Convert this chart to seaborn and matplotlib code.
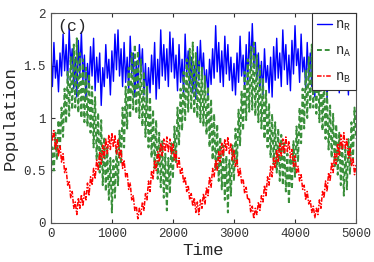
import numpy as np
import pandas as pd
import matplotlib
matplotlib.use("Agg")
import matplotlib.pyplot as plt
import seaborn as sns

# time grid (step 25)
time = np.arange(0, 5001, 25)

n_R = [
    1.65, 1.30, 1.72, 1.38, 1.55, 1.25, 1.62, 1.40, 1.80, 1.45, 1.70, 1.35,
    1.85, 1.50, 1.66, 1.28, 1.58, 1.20, 1.74, 1.42, 1.82, 1.36, 1.60, 1.18,
    1.52, 1.30, 1.68, 1.40, 1.76, 1.26, 1.58, 1.34, 1.62, 1.12, 1.48, 1.30,
    1.70, 1.38, 1.56, 1.22, 1.64, 1.35, 1.80, 1.46, 1.84, 1.40, 1.66, 1.30,
    1.72, 1.34, 1.58, 1.26, 1.78, 1.42, 1.62, 1.20, 1.54, 1.28, 1.70, 1.44,
    1.66, 1.22, 1.52, 1.16, 1.48, 1.24, 1.60, 1.32, 1.72, 1.18, 1.56, 1.28,
    1.84, 1.40, 1.70, 1.36, 1.66, 1.30, 1.82, 1.44, 1.76, 1.38, 1.60, 1.26,
    1.70, 1.34, 1.56, 1.22, 1.80, 1.42, 1.64, 1.30, 1.58, 1.24, 1.50, 1.18,
    1.68, 1.36, 1.74, 1.40, 1.62, 1.28, 1.46, 1.20, 1.56, 1.32, 1.66, 1.38,
    1.88, 1.44, 1.72, 1.34, 1.64, 1.30, 1.78, 1.42, 1.70, 1.36, 1.58, 1.26,
    1.52, 1.22, 1.62, 1.34, 1.78, 1.40, 1.60, 1.28, 1.70, 1.32, 1.82, 1.46,
    1.90, 1.48, 1.72, 1.36, 1.62, 1.28, 1.54, 1.22, 1.66, 1.34, 1.50, 1.24,
    1.58, 1.20, 1.68, 1.36, 1.76, 1.38, 1.62, 1.30, 1.84, 1.46, 1.70, 1.32,
    1.60, 1.26, 1.74, 1.42, 1.88, 1.50, 1.66, 1.34, 1.80, 1.44, 1.58, 1.28,
    1.72, 1.36, 1.62, 1.30, 1.56, 1.20, 1.68, 1.38, 1.52, 1.26, 1.60, 1.32,
    1.66, 1.18, 1.54, 1.30, 1.74, 1.40, 1.62, 1.28, 1.58, 1.24, 1.70, 1.36,
    1.64, 1.30, 1.56, 1.22, 1.72, 1.38, 1.60, 1.32, 1.55,
]

n_A = [
    0.40, 0.72, 0.50, 0.86, 0.60, 0.98, 0.72, 1.10, 0.82, 1.28, 0.95, 1.45,
    1.02, 1.58, 1.08, 1.70, 1.10, 1.76, 1.05, 1.62, 1.00, 1.56, 0.96, 1.48,
    0.92, 1.42, 0.86, 1.30, 0.72, 1.20, 0.60, 1.05, 0.48, 0.98, 0.36, 0.82,
    0.30, 0.72, 0.22, 0.62, 0.10, 0.60, 0.24, 0.72, 0.36, 0.88, 0.56, 1.10,
    0.72, 1.30, 0.90, 1.48, 1.00, 1.62, 1.08, 1.70, 1.04, 1.64, 1.00, 1.56,
    0.92, 1.44, 0.82, 1.30, 0.72, 1.20, 0.62, 1.08, 0.52, 0.98, 0.42, 0.86,
    0.34, 0.78, 0.24, 0.66, 0.12, 0.62, 0.28, 0.76, 0.42, 0.92, 0.58, 1.10,
    0.74, 1.28, 0.88, 1.44, 0.98, 1.56, 1.06, 1.66, 1.08, 1.72, 1.04, 1.62,
    1.00, 1.54, 0.96, 1.48, 0.92, 1.40, 0.84, 1.30, 0.72, 1.18, 0.60, 1.04,
    0.50, 0.94, 0.40, 0.82, 0.32, 0.74, 0.22, 0.64, 0.10, 0.60, 0.26, 0.74,
    0.40, 0.90, 0.56, 1.08, 0.74, 1.26, 0.88, 1.44, 0.98, 1.56, 1.06, 1.68,
    1.08, 1.72, 1.02, 1.60, 0.96, 1.50, 0.90, 1.38, 0.80, 1.26, 0.72, 1.14,
    0.62, 1.04, 0.56, 0.96, 0.48, 0.90, 0.40, 0.84, 0.36, 0.76, 0.30, 0.66,
    0.18, 0.62, 0.32, 0.78, 0.44, 0.92, 0.58, 1.10, 0.76, 1.28, 0.90, 1.46,
    1.00, 1.58, 1.08, 1.70, 1.10, 1.74, 1.04, 1.62, 0.96, 1.50, 0.88, 1.38,
    0.80, 1.24, 0.70, 1.12, 0.62, 1.04, 0.54, 0.94, 0.46, 0.86, 0.36, 0.76,
    0.26, 0.70, 0.32, 0.80, 0.46, 0.96, 0.60, 1.10, 0.80,
]

n_B = [
    0.92, 0.78, 0.88, 0.70, 0.80, 0.64, 0.74, 0.58, 0.66, 0.48, 0.52, 0.36,
    0.40, 0.24, 0.30, 0.14, 0.20, 0.08, 0.24, 0.14, 0.27, 0.16, 0.30, 0.22,
    0.38, 0.26, 0.44, 0.36, 0.52, 0.42, 0.60, 0.50, 0.68, 0.56, 0.74, 0.62,
    0.80, 0.66, 0.84, 0.70, 0.86, 0.72, 0.84, 0.66, 0.80, 0.62, 0.70, 0.52,
    0.60, 0.44, 0.48, 0.32, 0.38, 0.22, 0.26, 0.12, 0.16, 0.04, 0.14, 0.08,
    0.20, 0.12, 0.28, 0.22, 0.40, 0.30, 0.50, 0.42, 0.60, 0.50, 0.68, 0.58,
    0.76, 0.64, 0.80, 0.68, 0.82, 0.68, 0.80, 0.66, 0.76, 0.60, 0.68, 0.52,
    0.62, 0.46, 0.52, 0.38, 0.44, 0.30, 0.36, 0.22, 0.28, 0.16, 0.24, 0.10,
    0.20, 0.08, 0.22, 0.14, 0.28, 0.18, 0.34, 0.26, 0.44, 0.34, 0.52, 0.44,
    0.60, 0.50, 0.68, 0.58, 0.76, 0.64, 0.80, 0.68, 0.82, 0.66, 0.76, 0.60,
    0.70, 0.54, 0.60, 0.44, 0.52, 0.38, 0.42, 0.28, 0.34, 0.22, 0.24, 0.10,
    0.16, 0.04, 0.14, 0.08, 0.20, 0.12, 0.26, 0.20, 0.36, 0.26, 0.44, 0.36,
    0.54, 0.44, 0.62, 0.52, 0.70, 0.58, 0.76, 0.64, 0.80, 0.66, 0.82, 0.68,
    0.78, 0.62, 0.70, 0.54, 0.64, 0.48, 0.54, 0.40, 0.46, 0.32, 0.36, 0.22,
    0.30, 0.18, 0.22, 0.10, 0.16, 0.05, 0.14, 0.08, 0.22, 0.14, 0.30, 0.24,
    0.40, 0.30, 0.48, 0.40, 0.58, 0.48, 0.66, 0.56, 0.76, 0.64, 0.84, 0.70,
    0.86, 0.70, 0.80, 0.62, 0.72, 0.54, 0.62, 0.46, 0.56,
]

labels = [r"n$_\mathrm{R}$", r"n$_\mathrm{A}$", r"n$_\mathrm{B}$"]
colors = ["#0000ff", "#3a8f3a", "#ff0000"]

sns.set_style("ticks")
plt.rcParams["font.family"] = ["Liberation Mono", "DejaVu Sans"]
plt.rcParams["mathtext.fontset"] = "custom"
plt.rcParams["mathtext.rm"] = "Liberation Mono"
plt.rcParams["mathtext.it"] = "Liberation Mono"

fig = plt.figure(figsize=(3.74, 2.62), dpi=100)
ax = fig.add_axes([0.136, 0.149, 0.816, 0.801])

sns.lineplot(x=time, y=n_R, ax=ax, color=colors[0], lw=1.0, label=labels[0])
sns.lineplot(x=time, y=n_A, ax=ax, color=colors[1], lw=1.4, label=labels[1],
             linestyle=(0, (2.5, 1.5)))
sns.lineplot(x=time, y=n_B, ax=ax, color=colors[2], lw=1.1, label=labels[2],
             linestyle=(0, (3, 1, 1, 1)))

ax.set_xlim(0, 5000)
ax.set_ylim(0, 2)
ax.set_xticks([0, 1000, 2000, 3000, 4000, 5000])
ax.set_yticks([0, 0.5, 1, 1.5, 2])
ax.set_yticklabels(["0", "0.5", "1", "1.5", "2"])
ax.tick_params(direction="in", top=True, right=False, labelsize=9,
               length=3, colors="#333333", labelcolor="#333333")
for s in ax.spines.values():
    s.set_color("#555555")
    s.set_linewidth(0.8)

ax.set_xlabel("Time", fontsize=12.5, labelpad=2)
ax.set_ylabel("Population", fontsize=12.5, labelpad=4)
ax.text(0.02, 0.97, "(c)", transform=ax.transAxes, fontsize=12,
        va="top", ha="left")

leg = ax.legend(loc="upper right", borderaxespad=0, fontsize=10,
                handlelength=1.1, handletextpad=0.2, labelspacing=0.75,
                fancybox=False, framealpha=1, borderpad=0.35)
leg.get_frame().set_edgecolor("#333333")
leg.get_frame().set_linewidth(0.8)

fig.savefig("out.png", dpi=100)
